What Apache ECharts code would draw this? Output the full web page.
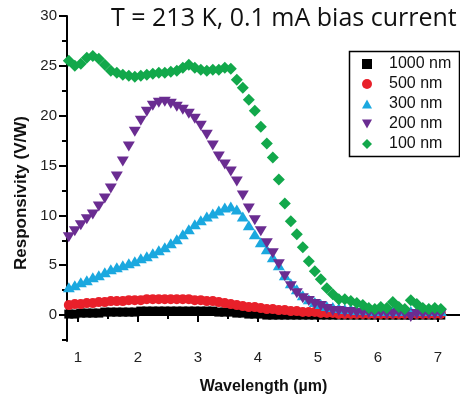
<!DOCTYPE html>
<html>
<head>
<meta charset="utf-8">
<script src="https://cdn.jsdelivr.net/npm/echarts@6/dist/echarts.min.js"></script>
<style>
  html, body { margin: 0; padding: 0; background: #fff; }
  #chart { width: 460px; height: 400px; }
</style>
</head>
<body>
<div id="chart"></div>
<script>
// Wavelength sample points (µm)
const wavelength = [
  0.85, 0.95, 1.05, 1.15, 1.25, 1.35, 1.45, 1.55, 1.65, 1.75,
  1.85, 1.95, 2.05, 2.15, 2.25, 2.35, 2.45, 2.55, 2.65, 2.75,
  2.85, 2.95, 3.05, 3.15, 3.25, 3.35, 3.45, 3.55, 3.65, 3.75,
  3.85, 3.95, 4.05, 4.15, 4.25, 4.35, 4.45, 4.55, 4.65, 4.75,
  4.85, 4.95, 5.05, 5.15, 5.25, 5.35, 5.45, 5.55, 5.65, 5.75,
  5.85, 5.95, 6.05, 6.15, 6.25, 6.35, 6.45, 6.55, 6.65, 6.75,
  6.85, 6.95, 7.05
];

// Responsivity (V/W) for each device size
const resp1000 = [
  0.1, 0.1, 0.2, 0.2, 0.2, 0.2, 0.3, 0.3, 0.3, 0.3,
  0.3, 0.3, 0.4, 0.4, 0.4, 0.4, 0.4, 0.4, 0.4, 0.4,
  0.4, 0.4, 0.4, 0.4, 0.4, 0.3, 0.3, 0.3, 0.2, 0.2,
  0.1, 0.1, 0.1, 0.0, 0.0, 0.0, 0.0, 0.0, 0.0, 0.0,
  0.0, 0.0, 0.0, 0.0, 0.0, 0.0, 0.0, 0.0, 0.0, 0.0,
  0.0, 0.0, 0.0, 0.0, 0.0, 0.0, 0.0, 0.0, 0.0, 0.0,
  0.0, 0.0, 0.0
];
const resp500 = [
  1.0, 1.1, 1.1, 1.2, 1.2, 1.3, 1.3, 1.4, 1.4, 1.4,
  1.5, 1.5, 1.5, 1.6, 1.6, 1.6, 1.6, 1.6, 1.6, 1.6,
  1.6, 1.5, 1.5, 1.4, 1.4, 1.3, 1.2, 1.1, 1.0, 0.9,
  0.8, 0.8, 0.7, 0.6, 0.6, 0.5, 0.5, 0.4, 0.4, 0.3,
  0.3, 0.3, 0.2, 0.2, 0.2, 0.1, 0.1, 0.1, 0.1, 0.1,
  0.1, 0.1, 0.1, 0.1, 0.1, 0.1, 0.1, 0.1, 0.1, 0.1,
  0.1, 0.1, 0.1
];
const resp300 = [
  2.8, 3.0, 3.3, 3.5, 3.8, 4.0, 4.3, 4.6, 4.8, 5.0,
  5.2, 5.4, 5.7, 5.9, 6.2, 6.5, 6.8, 7.2, 7.6, 8.1,
  8.6, 9.1, 9.5, 9.9, 10.2, 10.5, 10.8, 10.9, 10.6, 9.9,
  9.0, 8.1, 7.3, 6.6, 5.8, 5.0, 4.0, 3.2, 2.6, 2.0,
  1.6, 1.3, 1.1, 0.9, 0.8, 0.7, 0.6, 0.6, 0.5, 0.5,
  0.5, 0.4, 0.4, 0.4, 0.4, 0.4, 0.4, 0.4, 0.4, 0.4,
  0.4, 0.4, 0.4
];
const resp200 = [
  7.8, 8.4, 9.0, 9.6, 10.1, 10.9, 11.7, 12.7, 13.9, 15.4,
  16.9, 18.4, 19.5, 20.4, 21.0, 21.3, 21.4, 21.2, 20.9, 20.6,
  20.2, 19.7, 19.0, 18.1, 17.0, 15.9, 15.1, 14.4, 13.4, 12.0,
  10.7, 9.5, 8.4, 7.2, 6.2, 5.1, 3.9, 2.9, 2.2, 1.7,
  1.4, 1.1, 0.9, 0.6, 0.4, 0.4, 0.3, 0.3, 0.2, 0.2,
  0.2, 0.1, 0.2, 0.1, 0.1, 0.2, 0.1, -0.2, 0.1, 0.1,
  0.1, 0.1, 0.1
];
const resp100 = [
  25.5, 25.0, 25.2, 25.8, 26.0, 25.7, 25.1, 24.5, 24.3, 24.1,
  24.0, 23.9, 24.0, 24.1, 24.2, 24.3, 24.3, 24.4, 24.5, 24.8,
  25.1, 24.8, 24.6, 24.5, 24.6, 24.6, 24.8, 24.7, 23.6, 22.8,
  21.6, 20.5, 18.9, 17.2, 15.8, 13.6, 11.2, 9.4, 8.1, 6.8,
  5.4, 4.4, 3.6, 2.7, 2.1, 1.6, 1.6, 1.4, 1.2, 1.0,
  0.7, 0.6, 0.8, 0.7, 1.3, 0.8, 0.6, 1.5, 1.1, 0.7,
  0.6, 0.7, 0.6
];

const seriesNames = ['1000 nm', '500 nm', '300 nm', '200 nm', '100 nm'];
const xMajorTicks = [1, 2, 3, 4, 5, 6, 7];
const xMinorTicks = [1.5, 2.5, 3.5, 4.5, 5.5, 6.5];
const yMajorTicks = [0, 5, 10, 15, 20, 25, 30];
const yMinorTicks = [-2.5, 2.5, 7.5, 12.5, 17.5, 22.5, 27.5];

const toPoints = vals => wavelength.map((w, i) => [w, vals[i]]);

const downTriangle = 'path://M0,0 L10,0 L5,9 Z';
const upTriangle = 'path://M5,0 L10,9 L0,9 Z';

const labelFont = 'Liberation Sans, Arial, sans-serif';

const chart = echarts.init(document.getElementById('chart'), null, { renderer: 'canvas' });

const xBase = {
  type: 'value', min: 0.82, max: 7.37, position: 'bottom',
  splitLine: { show: false }
};
const yBase = {
  type: 'value', min: -2.6, max: 30, position: 'left',
  splitLine: { show: false }
};

chart.setOption({
  animation: false,
  backgroundColor: '#ffffff',
  title: {
    text: 'T = 213 K, 0.1 mA bias current',
    left: 106, top: 1,
    textStyle: { fontFamily: 'Open Sans', fontSize: 25, fontWeight: 'normal', color: '#111' }
  },
  grid: { left: 67, right: 0, top: 16, bottom: 58, containLabel: false },
  xAxis: [
    Object.assign({}, xBase, {
      name: 'Wavelength (µm)', nameLocation: 'middle', nameGap: 38,
      nameTextStyle: { fontFamily: labelFont, fontSize: 16, fontWeight: 'bold', color: '#111' },
      axisLine: { show: true, lineStyle: { color: '#000', width: 2 } },
      axisTick: { show: true, customValues: xMajorTicks, length: 7, lineStyle: { color: '#000', width: 2 } },
      axisLabel: { customValues: xMajorTicks, margin: 9, fontFamily: labelFont, fontSize: 15, color: '#222' }
    }),
    Object.assign({}, xBase, {
      axisLine: { show: false },
      axisTick: { show: true, customValues: xMinorTicks, length: 4, lineStyle: { color: '#000', width: 2 } },
      axisLabel: { show: false }
    })
  ],
  yAxis: [
    Object.assign({}, yBase, {
      axisLine: { show: true, lineStyle: { color: '#000', width: 2 } },
      axisTick: { show: true, customValues: yMajorTicks, length: 8, lineStyle: { color: '#000', width: 2 } },
      axisLabel: { customValues: yMajorTicks, margin: 10, fontFamily: labelFont, fontSize: 15, color: '#222' }
    }),
    Object.assign({}, yBase, {
      axisLine: { show: false },
      axisTick: { show: true, customValues: yMinorTicks, length: 5, lineStyle: { color: '#000', width: 2 } },
      axisLabel: { show: false }
    })
  ],
  legend: {
    orient: 'vertical', left: 362, top: 56, padding: 0,
    itemWidth: 10, itemHeight: 10, itemGap: 4,
    data: seriesNames,
    textStyle: { fontFamily: labelFont, fontSize: 16, color: '#111', lineHeight: 14, padding: [0, 0, 0, 12] }
  },
  graphic: [
    {
      type: 'rect', left: 347, top: 49, z: 100,
      shape: { width: 110, height: 105 },
      style: { fill: null, stroke: '#000', lineWidth: 1.5 }
    },
    {
      // rotated y-axis title
      type: 'text', x: 21, y: 193, rotation: Math.PI / 2, z: 100,
      style: {
        text: 'Responsivity (V/W)', align: 'center', verticalAlign: 'middle',
        font: 'bold 17px Liberation Sans, Arial, sans-serif', fill: '#111'
      }
    }
  ],
  series: [
    { name: seriesNames[0], type: 'scatter', data: toPoints(resp1000), symbol: 'rect', symbolSize: 9,
      itemStyle: { color: '#000000', opacity: 1 } },
    { name: seriesNames[1], type: 'scatter', data: toPoints(resp500), symbol: 'circle', symbolSize: 10,
      itemStyle: { color: '#e8202a', opacity: 1 } },
    { name: seriesNames[2], type: 'scatter', data: toPoints(resp300), symbol: upTriangle, symbolSize: [12, 10],
      itemStyle: { color: '#1ba8df', opacity: 1 } },
    { name: seriesNames[3], type: 'scatter', data: toPoints(resp200), symbol: downTriangle, symbolSize: [12, 10],
      itemStyle: { color: '#6a2c91', opacity: 1 } },
    { name: seriesNames[4], type: 'scatter', data: toPoints(resp100), symbol: 'diamond', symbolSize: 12,
      itemStyle: { color: '#12a84b', opacity: 1 } }
  ]
});
</script>
</body>
</html>
